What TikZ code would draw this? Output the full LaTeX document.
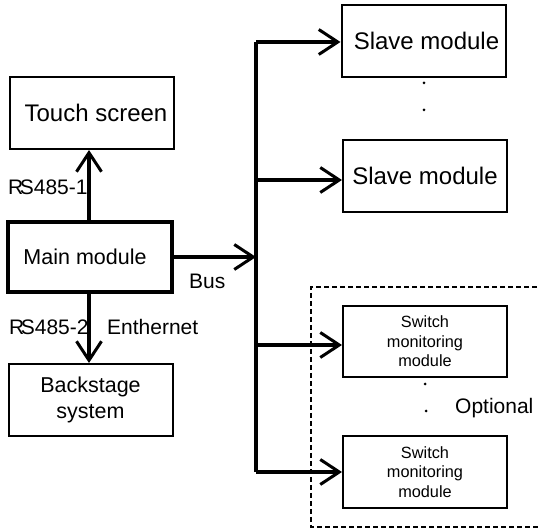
\documentclass[tikz,border=0pt]{standalone}
\usepackage{fontspec}
\setmainfont{Liberation Sans}
\usetikzlibrary{arrows.meta}

\tikzset{
  box/.style={draw, line width=2pt, rectangle, inner sep=0pt, align=center,
              minimum width=164pt, minimum height=72pt},
  mainbox/.style={box, line width=3.4pt},
  conn/.style={line width=3.2pt, -{Straight Barb[length=19pt,width=25pt,line width=3pt]}},
  busline/.style={line width=3.2pt},
  biglabel/.style={font=\fontsize{24}{28}\selectfont},
  midlabel/.style={font=\fontsize{21.5}{27}\selectfont},
  smalllabel/.style={font=\fontsize{16.3}{19.5}\selectfont},
  tag/.style={font=\fontsize{21}{25}\selectfont, inner sep=0pt},
  optframe/.style={line width=2pt, dash pattern=on 5pt off 3pt},
  dot/.style={fill=black}
}

\begin{document}
\begin{tikzpicture}[x=1pt,y=-1pt]
\useasboundingbox (0,0) rectangle (539,529);

% left column
\node[box, biglabel] (touch) at (92,113) {\hspace*{8pt}Touch screen};
\node[mainbox, midlabel, minimum height=70pt] (main) at (90,257) {Main module\hspace*{10pt}};
\node[box, midlabel] (back) at (90.5,400) {Backstage\\[-1pt]system};

% right column
\node[box, biglabel] (slave1) at (423.5,41) {\hspace*{6pt}Slave module};
\node[box, biglabel] (slave2) at (425,176) {Slave module};
\node[box, smalllabel, minimum height=71pt] (sw1) at (425,341.5) {Switch\\monitoring\\module};
\node[box, smalllabel] (sw2) at (425,472) {Switch\\monitoring\\module};

% optional group frame (runs past the right edge)
\draw[optframe] (545,287) -- (311,287) -- (311,527) -- (545,527);
\node[tag, anchor=west] (opt) at (455,408) {Optional};

% bus
\coordinate (bustop) at (256,42);
\coordinate (busbot) at (256,472);
\draw[busline] (bustop) -- (busbot);

% connectors
\draw[conn] (main.north -| 89,0) -- (touch.south -| 89,0);
\draw[conn] (main.south -| 89,0) -- (back.north -| 89,0);
\draw[conn] (main.east |- 0,257) -- (bustop |- 0,257);
\draw[conn] (bustop) -- (slave1.west |- bustop);
\draw[conn] (bustop |- 0,180) -- (slave2.west |- 0,180);
\draw[conn] (bustop |- 0,345) -- (sw1.west |- 0,345);
\draw[conn] (busbot) -- (sw2.west |- busbot);

% connector labels
\node[tag, anchor=west] (rs1) at (8,187) {R\kern-3.5pt S485-1};
\node[tag, anchor=west] (rs2) at (9,327) {R\kern-3.5pt S485-2};
\node[tag, anchor=west] (eth) at (107,327) {Enthernet};
\node[tag, anchor=west] (bus) at (189,281) {Bus};

% continuation dots
\fill[dot] (424,83) circle (1.5pt);
\fill[dot] (424,110) circle (1.5pt);
\fill[dot] (425,384) circle (1.5pt);
\fill[dot] (426,411) circle (1.5pt);
\end{tikzpicture}
\end{document}
